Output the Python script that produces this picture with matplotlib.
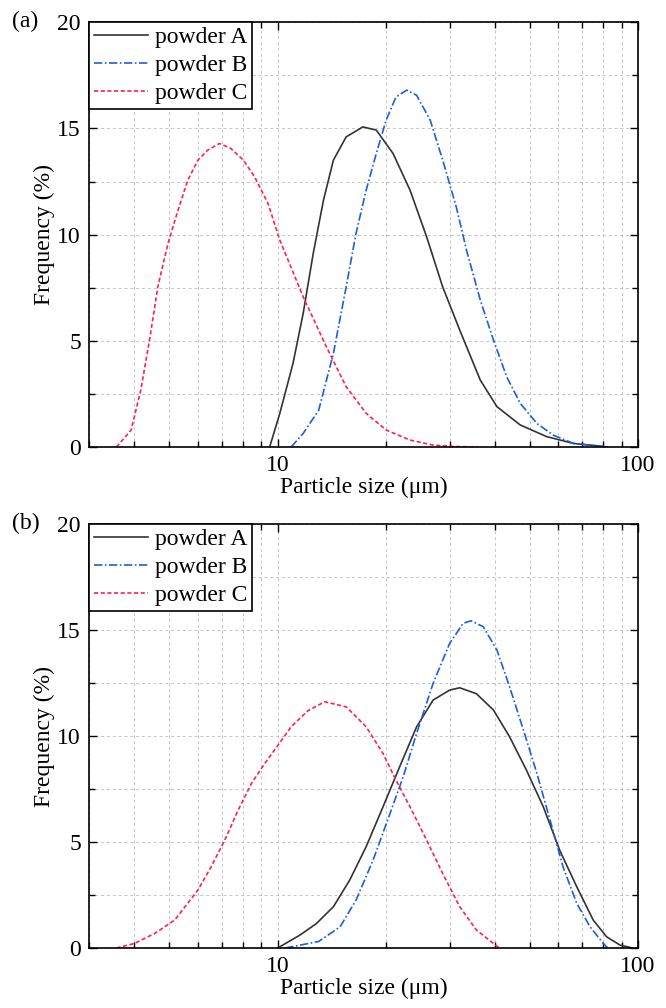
import numpy as np
import matplotlib.pyplot as plt
from matplotlib.ticker import LogLocator, NullFormatter, FixedLocator, FixedFormatter, MultipleLocator

plt.rcParams['font.family'] = ['Liberation Serif', 'DejaVu Serif']
plt.rcParams['font.size'] = 17

# ---- panel (a) ----
a_A_x = [9.5, 10.14, 11.03, 11.77, 12.55, 13.4, 14.28, 15.49, 17.24, 18.78, 20.9, 23.3, 25.9,
         28.7, 32.0, 36.5, 40.6, 47.1, 55.8, 66.2, 78.3, 82.0]
a_A_y = [0.0, 1.59, 3.94, 6.29, 9.11, 11.62, 13.51, 14.6, 15.07, 14.92, 13.82, 12.09, 9.90,
         7.54, 5.51, 3.15, 1.90, 1.04, 0.49, 0.17, 0.05, 0.0]
a_B_x = [10.9, 11.77, 13.0, 14.28, 15.49, 16.5, 17.6, 18.78, 20.0, 21.3, 22.8, 24.3, 26.5,
         28.7, 31.3, 33.5, 36.5, 39.7, 43.2, 47.1, 52.4, 58.2, 66.2, 78.0, 84.0]
a_B_y = [0.0, 0.64, 1.74, 4.41, 7.54, 10.06, 12.09, 13.82, 15.39, 16.48, 16.8, 16.56, 15.39,
         13.51, 11.31, 9.2, 6.92, 5.04, 3.31, 2.06, 1.11, 0.56, 0.17, 0.03, 0.0]
a_C_x = [3.57, 3.92, 4.17, 4.41, 4.65, 4.96, 5.29, 5.63, 6.01, 6.40, 6.89, 7.41, 8.03, 8.63,
         9.40, 10.14, 11.77, 13.65, 15.49, 17.6, 20.0, 23.3, 27.0, 30.7, 36.0]
a_C_y = [0.0, 0.80, 2.68, 5.04, 7.54, 9.58, 11.15, 12.56, 13.51, 13.98, 14.29, 14.06, 13.51, 12.72,
         11.47, 9.74, 7.07, 4.72, 2.84, 1.59, 0.80, 0.33, 0.09, 0.03, 0.0]

# ---- panel (b) ----
b_A_x = [10.0, 11.53, 12.82, 14.28, 15.85, 17.6, 19.6, 21.8, 24.3, 27.0, 30.0, 32.0, 35.6, 39.7,
         44.0, 49.0, 54.6, 60.6, 67.6, 75.1, 81.8, 89.1, 96.6]
b_A_y = [0.0, 0.61, 1.16, 1.95, 3.21, 4.78, 6.66, 8.55, 10.44, 11.7, 12.17, 12.28, 12.0, 11.23,
         9.97, 8.40, 6.66, 4.62, 2.89, 1.32, 0.53, 0.14, 0.0]
b_B_x = [10.5, 13.0, 14.9, 16.5, 18.4, 20.5, 22.3, 24.3, 27.0, 30.0, 32.7, 34.4, 37.2, 40.6,
         44.0, 48.1, 52.4, 57.0, 61.9, 67.6, 73.6, 80.1, 82.4]
b_B_y = [0.0, 0.31, 1.0, 2.26, 4.15, 6.35, 8.08, 10.13, 12.49, 14.37, 15.32, 15.44, 15.16, 14.06,
         12.33, 10.28, 8.24, 6.04, 3.84, 2.11, 1.0, 0.22, 0.0]
b_C_x = [3.57, 4.01, 4.56, 5.18, 6.01, 6.54, 7.13, 7.77, 8.46, 9.21, 10.0, 10.91, 12.14, 13.5,
         15.49, 17.6, 19.6, 21.3, 23.3, 25.9, 28.7, 32.0, 35.6, 39.7, 41.2]
b_C_y = [0.0, 0.22, 0.69, 1.32, 2.74, 3.84, 5.09, 6.51, 7.77, 8.71, 9.55, 10.45, 11.2, 11.62,
         11.38, 10.44, 9.18, 7.92, 6.66, 5.09, 3.52, 1.95, 0.85, 0.22, 0.0]

labels = ['powder A', 'powder B', 'powder C']
panels = [('(a)', (a_A_x, a_A_y), (a_B_x, a_B_y), (a_C_x, a_C_y)),
          ('(b)', (b_A_x, b_A_y), (b_B_x, b_B_y), (b_C_x, b_C_y))]

fig = plt.figure(figsize=(6.66, 10.08), dpi=100)
rects = [[0.134, 0.5565, 0.824, 0.4215], [0.134, 0.0595, 0.824, 0.4205]]

for rect, (tag, A, B, C) in zip(rects, panels):
    ax = fig.add_axes(rect)
    ax.plot(A[0], A[1], '-', color='#333333', lw=1.2, label=labels[0])
    ax.plot(B[0], B[1], '-.', color='#1a5fe0', lw=1.2, label=labels[1], dashes=(5, 1.5, 1, 1.5))
    ax.plot(C[0], C[1], '--', color='#ff2050', lw=1.2, label=labels[2], dashes=(2.5, 1.5))
    ax.set_xscale('log')
    ax.set_xlim(3, 100)
    ax.set_ylim(0, 20)
    ax.xaxis.set_major_locator(FixedLocator([10, 100]))
    ax.xaxis.set_major_formatter(FixedFormatter(['10', '100']))
    ax.xaxis.set_minor_locator(LogLocator(base=10, subs=np.arange(2, 10)))
    ax.xaxis.set_minor_formatter(NullFormatter())
    ax.yaxis.set_major_locator(MultipleLocator(5))
    ax.yaxis.set_minor_locator(MultipleLocator(2.5))
    ax.tick_params(which='both', direction='in', top=True, right=True, width=1.0)
    ax.tick_params(which='major', length=6, pad=6)
    ax.tick_params(which='minor', length=4)
    ax.grid(which='both', ls=(0, (3, 3)), color='#c4c4c4', lw=0.7)
    for s in ax.spines.values():
        s.set_linewidth(1.2)
    ax.set_xlabel('Particle size (μm)', labelpad=0)
    ax.set_ylabel('Frequency (%)', labelpad=2)
    leg = ax.legend(loc='upper left', borderaxespad=0, fancybox=False, framealpha=1,
                    edgecolor='black', handlelength=2.3, handletextpad=0.3,
                    labelspacing=0.27, borderpad=0.2, fontsize=17)
    leg.get_frame().set_linewidth(1.2)
    pos = ax.get_position()
    fig.text(0.018, pos.y1 + 0.001, tag, ha='left', va='center', fontsize=17)

plt.savefig('out.png', dpi=100)
